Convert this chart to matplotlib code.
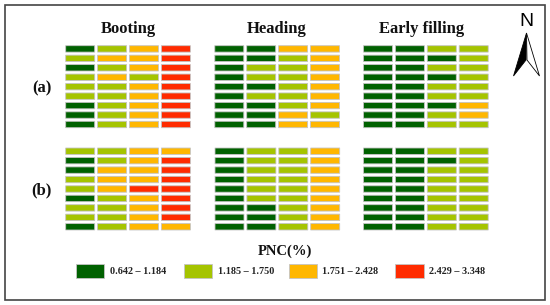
import matplotlib
matplotlib.use("Agg")
import matplotlib.pyplot as plt
from matplotlib.patches import Rectangle, Polygon

# PNC class of every plot: rows top to bottom, 4 columns
booting_a = [[0, 1, 2, 3], [1, 2, 2, 3], [0, 1, 2, 3], [1, 2, 1, 3], [1, 1, 2, 3],
             [1, 1, 2, 3], [0, 1, 2, 3], [0, 1, 2, 3], [0, 1, 2, 3]]
heading_a = [[0, 0, 2, 2], [0, 0, 1, 2], [0, 1, 1, 2], [0, 1, 1, 2], [0, 0, 1, 2],
             [0, 1, 1, 2], [0, 0, 1, 2], [0, 0, 2, 1], [0, 0, 2, 2]]
filling_a = [[0, 0, 1, 1], [0, 0, 0, 1], [0, 0, 1, 1], [0, 0, 0, 1], [0, 0, 1, 1],
             [0, 0, 1, 1], [0, 0, 0, 2], [0, 0, 1, 2], [0, 0, 1, 1]]
booting_b = [[1, 1, 2, 2], [0, 1, 2, 3], [0, 2, 2, 3], [1, 2, 2, 3], [1, 2, 3, 3],
             [0, 1, 2, 3], [1, 1, 2, 3], [1, 1, 2, 3], [0, 1, 2, 2]]
heading_b = [[0, 1, 1, 2], [0, 1, 1, 2], [0, 1, 1, 2], [0, 1, 1, 2], [0, 1, 1, 2],
             [0, 1, 1, 2], [0, 0, 1, 2], [0, 0, 1, 2], [0, 0, 1, 2]]
filling_b = [[0, 0, 1, 1], [0, 0, 0, 1], [0, 0, 1, 1], [0, 0, 1, 1], [0, 0, 1, 1],
             [0, 0, 1, 1], [0, 0, 1, 1], [0, 0, 1, 1], [0, 0, 1, 1]]

stages = ["Booting", "Heading", "Early filling"]
rows_labels = ["(a)", "(b)"]
class_labels = ["0.642 – 1.184", "1.185 – 1.750", "1.751 – 2.428", "2.429 – 3.348"]
colors = ["#006100", "#A5C400", "#FFB700", "#FF2B00"]

plt.rcParams["font.family"] = ["Liberation Serif", "DejaVu Serif"]

fig = plt.figure(figsize=(5.5, 3.05), dpi=100)
ax = fig.add_axes([0, 0, 1, 1])
ax.set_xlim(0, 550)
ax.set_ylim(305, 0)
ax.axis("off")


def draw_panel(grid, left, top):
    for r, row in enumerate(grid):
        for c, level in enumerate(row):
            ax.add_patch(Rectangle((left + c * 31.9, top + r * 9.45), 29, 6.4,
                                   facecolor=colors[level], edgecolor="#c4c4c4", linewidth=0.6,
                                   snap=False))


draw_panel(booting_a, 65.7, 45.7)
draw_panel(heading_a, 214.8, 45.7)
draw_panel(filling_a, 363.5, 45.7)
draw_panel(booting_b, 65.7, 148)
draw_panel(heading_b, 215, 148)
draw_panel(filling_b, 363.5, 148)

# titles
for name, x in zip(stages, [128, 277, 422]):
    ax.text(x, 29, name, ha="center", va="center", fontsize=12, fontweight="bold", color="#111111")
for name, y in zip(rows_labels, [88, 190]):
    ax.text(41.5, y, name, ha="center", va="center", fontsize=12, fontweight="bold", color="#111111")

# legend
ax.text(285, 251, "PNC(%)", ha="center", va="center", fontsize=10.5, fontweight="bold", color="#111111")
for label, col, x in zip(class_labels, colors, [75.7, 183.5, 288.5, 395]):
    ax.add_patch(Rectangle((x, 263.5), 28.6, 14.5, facecolor=col, edgecolor="#c4c4c4", linewidth=0.6))
    ax.text(x + 34, 271, label, ha="left", va="center", fontsize=7.3, fontweight="bold", color="#222222")

# north arrow
ax.text(526.7, 21.5, "N", ha="center", va="center", fontsize=14, family="Liberation Sans", color="black")
ax.add_patch(Polygon([(526.5, 33), (513.5, 76), (526, 60)], closed=True, facecolor="black", edgecolor="black", linewidth=0.6))
ax.add_patch(Polygon([(526.5, 33), (539.5, 76), (527, 60)], closed=True, facecolor="white", edgecolor="black", linewidth=0.6))

# outer frame
ax.add_patch(Rectangle((5.2, 5), 539.8, 295, fill=False, edgecolor="#444444", linewidth=1.2))

fig.savefig("out.png", dpi=100)
